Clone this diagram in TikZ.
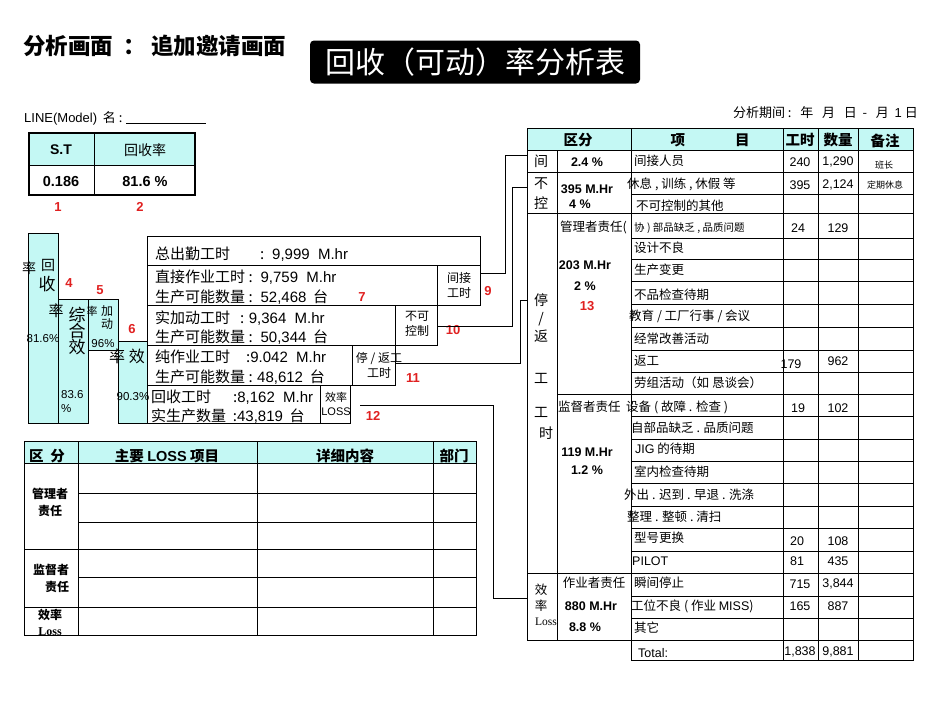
\documentclass[tikz,border=0pt]{standalone}
\usepackage{fontspec}
\setmainfont{Noto Sans CJK SC}
\newfontfamily\arial{Liberation Sans}
\newfontfamily\serifl{Liberation Serif}
\definecolor{cy}{HTML}{C4F8F4}
\definecolor{rd}{HTML}{E02020}
\begin{document}
\begin{tikzpicture}[x=1pt,y=-1pt,
  ln/.style={draw=black,line width=0.8pt},
  t/.style={inner sep=0pt,font=\fontsize{12.5}{14}\selectfont},
  tw/.style={t,anchor=west},
  num/.style={inner sep=0pt,font=\arial\fontsize{12.5}{14}\selectfont},
  bnum/.style={inner sep=0pt,font=\arial\bfseries\fontsize{12.5}{14}\selectfont},
  red/.style={inner sep=0pt,text=rd,font=\arial\bfseries\fontsize{13}{14}\selectfont},
  big/.style={inner sep=0pt,anchor=west,font=\fontsize{15}{17}\selectfont},
  hb/.style={inner sep=0pt,font=\bfseries\fontsize{14.5}{16}\selectfont},
  bar/.style={draw=black,fill=cy,line width=0.8pt}]
\useasboundingbox (0,0) rectangle (950,713);
% title
\node[anchor=west,inner sep=0pt,font=\bfseries\fontsize{22.5}{24}\selectfont] (title) at (23,46) {分析画面 \ ： 追加邀请画面};
\node[fill=black,rounded corners=4pt,minimum width=330pt,minimum height=43pt,text=white,font=\fontsize{30}{32}\selectfont] (head) at (475,62) {回收（可动）率分析表};
\node[anchor=west,inner sep=0pt,font=\fontsize{13}{15}\selectfont] (line) at (24,118) {{\arial LINE(Model)}\ \ 名 : \underline{\hspace{80pt}}};
\node[anchor=east,inner sep=0pt,font=\fontsize{13}{15}\selectfont] (period) at (918,113) {分析期间 :\ \ \ 年\ \ \ 月\ \ \ 日\ \ -\ \ \ 月\ \ {\arial 1} 日};
% top-left table
\fill[cy] (29,133) rectangle (195,165);
\draw[line width=1.8pt] (29,133) rectangle (195,195);
\draw[ln] (29,165) -- (195,165) (94,133) -- (94,195);
\node[bnum,font=\arial\bfseries\fontsize{14}{16}\selectfont] (st) at (61,150) {S.T};
\node[t,font=\fontsize{14}{16}\selectfont] (hsl) at (145,150) {回收率};
\node[bnum,font=\arial\bfseries\fontsize{14.5}{16}\selectfont] (v1) at (61,182) {0.186};
\node[bnum,font=\arial\bfseries\fontsize{14.5}{16}\selectfont] (v2) at (145,182) {81.6 \%};
\node[red] (r1) at (58,207) {1};
\node[red] (r2) at (140,207) {2};
% bars
\draw[bar] (28,233) rectangle (58,423);
\draw[bar] (58,299) rectangle (88,423);
\draw[bar] (88,299) rectangle (118,350);
\draw[bar] (118,341) rectangle (147,423);
\node[t,font=\fontsize{14}{16}\selectfont] (a1) at (29,268) {率};
\node[t,font=\fontsize{14}{16}\selectfont] (a2) at (48,265) {回};
\node[t,font=\fontsize{17}{19}\selectfont] (a3) at (47,284) {收};
\node[num,font=\arial\fontsize{11.5}{13}\selectfont] (a4) at (43,339) {81.6\%};
\node[t,font=\fontsize{15}{17}\selectfont] (b1) at (56,311) {率};
\node[t,font=\fontsize{17}{16}\selectfont,align=center] (b2) at (77,331) {综\\合\\效};
\node[num,align=left,anchor=west,font=\arial\fontsize{11.5}{14}\selectfont] (b3) at (61,402) {83.6\\\%};
\node[t,font=\fontsize{11}{13}\selectfont] (c1) at (92,311) {率};
\node[t,font=\fontsize{12}{13}\selectfont,align=center] (c2) at (107,318) {加\\动};
\node[num,font=\arial\fontsize{11.5}{13}\selectfont] (c3) at (103,344) {96\%};
\node[t,font=\fontsize{16}{18}\selectfont] (d1) at (127,356) {率 效};
\node[num,font=\arial\fontsize{11.5}{13}\selectfont] (d2) at (133,397) {90.3\%};
\node[red] (r4) at (69,283) {4};
\node[red] (r5) at (100,290) {5};
\node[red] (r6) at (132,329) {6};
% middle boxes
\draw[ln] (147,236) rectangle (480,265);
\draw[ln] (147,265) rectangle (437,305);
\draw[ln] (437,265) rectangle (480,305);
\draw[ln] (147,305) rectangle (395,345);
\draw[ln] (395,305) rectangle (437,345);
\draw[ln] (147,345) rectangle (352,385);
\draw[ln] (352,345) rectangle (395,385);
\draw[ln] (147,385) rectangle (320,423);
\draw[ln] (320,385) rectangle (350,423);
\node[big] (m1) at (155,254) {总出勤工时\hspace{30pt}: \ {\arial 9,999\ \ M.hr}};
\node[big] (m2) at (155,277) {直接作业工时 : \ {\arial 9,759\ \ M.hr}};
\node[big] (m3) at (155,297) {生产可能数量 : \ {\arial 52,468}\ \ 台};
\node[big] (m4) at (155,318) {实加动工时\hspace{10pt}: {\arial 9,364\ \ M.hr}};
\node[big] (m5) at (155,337) {生产可能数量 : \ {\arial 50,344}\ \ 台};
\node[big] (m6) at (155,357) {纯作业工时\hspace{16pt}:{\arial 9.042\ \ M.hr}};
\node[big] (m7) at (155,377) {生产可能数量 : {\arial 48,612}\ \ 台};
\node[big] (m8) at (151,397) {回收工时\hspace{22pt}:{\arial 8,162\ \ M.hr}};
\node[big] (m9) at (151,416) {实生产数量\ \ :{\arial 43,819}\ \ 台};
\node[t,align=center,font=\fontsize{12}{15}\selectfont] (k1) at (459,285) {间接\\工时};
\node[t,align=center,font=\fontsize{12}{15}\selectfont] (k2) at (417,324) {不可\\控制};
\node[t,align=center,font=\fontsize{12}{15}\selectfont] (k3) at (379,365) {停 / 返工\\工时};
\node[t,align=center,font=\fontsize{11}{14}\selectfont] (k4) at (336,404) {效率\\{\arial LOSS}};
\node[red] (r7) at (362,297) {7};
\node[red] (r9) at (488,291) {9};
\node[red] (r10) at (453,330) {10};
\node[red] (r11) at (413,378) {11};
\node[red] (r12) at (373,416) {12};
% connectors
\coordinate (e9) at (527,155);
\coordinate (e10) at (527,187);
\coordinate (e11) at (527,300);
\coordinate (e12) at (527,598);
\draw[ln,line width=0.6pt] (480,273) -- (505,273) |- (e9);
\draw[ln,line width=0.6pt] (437,326) -- (512,326) |- (e10);
\draw[ln,line width=0.6pt] (395,363) -- (520,363) |- (e11);
\draw[ln,line width=0.6pt] (360,405) -- (493,405) |- (e12);
% bottom-left table
\fill[cy] (24,441) rectangle (476,463);
\draw[ln] (24,441) rectangle (476,635);
\foreach \x in {78,257,433} \draw[ln] (\x,441) -- (\x,635);
\foreach \y in {463,549,607} \draw[ln] (24,\y) -- (476,\y);
\foreach \y in {493,522,577} \draw[ln] (78,\y) -- (476,\y);
\node[hb] (h1) at (47,456) {区\ \ 分};
\node[hb] (h2) at (167,456) {主要 {\arial LOSS} 项目};
\node[hb] (h3) at (345,456) {详细内容};
\node[hb] (h4) at (454,456) {部门};
\node[t,font=\bfseries\fontsize{12}{17}\selectfont,align=center] (l1) at (50,502) {管理者\\责任};
\node[t,font=\bfseries\fontsize{12}{17}\selectfont,align=right] (l2) at (51,578) {监督者\\责任};
\node[t,font=\bfseries\fontsize{12}{16}\selectfont,align=center] (l3) at (50,622) {效率\\{\serifl Loss}};
% right table
\fill[cy] (527,128) rectangle (913,150);
\draw[ln] (527,128) rectangle (913,640);
\draw[ln] (631,640) rectangle (913,660);
\draw[ln] (527,150) -- (913,150) (527,172) -- (913,172) (527,213) -- (913,213) (527,573) -- (913,573);
\draw[ln] (557,128) ++(0,22) -- (557,640);
\draw[ln] (557,394) -- (913,394);
\foreach \x in {631,783,818,858} \draw[ln] (\x,128) -- (\x,660);
\foreach \y in {194,238,259,281,304,327,350,372,416,439,461,483,506,528,551,596,618} \draw[ln] (631,\y) -- (913,\y);
\node[hb] (rh1) at (578,140) {区分};
\node[hb] (rh2) at (710,140) {项\hspace{50pt}目};
\node[hb] (rh3) at (800,140) {工时};
\node[hb] (rh4) at (838,140) {数量};
\node[hb] (rh5) at (885,141) {备注};
% 间
\node[t,font=\fontsize{14}{16}\selectfont] (g1) at (541,161) {间};
\node[bnum] (g2) at (587,162) {2.4 \%};
\node[tw] (g3) at (634,161) {间接人员};
\node[num] (g4) at (800,162) {240};
\node[num] (g5) at (838,162) {1,290};
\node[t,font=\fontsize{9}{10}\selectfont] (g6) at (884,165) {班长};
% 不控
\node[t,font=\fontsize{14}{16}\selectfont] (n1) at (541,184) {不};
\node[t,font=\fontsize{14}{16}\selectfont] (n2) at (541,203) {控};
\node[bnum] (n3) at (587,189) {395 M.Hr};
\node[bnum] (n4) at (580,204) {4 \%};
\node[tw] (n5) at (627,184) {休息 , 训练 , 休假 等};
\node[num] (n6) at (800,185) {395};
\node[num] (n7) at (838,185) {2,124};
\node[t,font=\fontsize{9}{10}\selectfont] (n8) at (885,185) {定期休息};
\node[tw] (n9) at (636,206) {不可控制的其他};
% 停/返工时
\node[t,font=\fontsize{14}{18}\selectfont,align=center] (s1) at (541,318) {停\\/\\返};
\node[t,font=\fontsize{14}{16}\selectfont] (s2) at (541,378) {工};
\node[t,font=\fontsize{14}{16}\selectfont] (s3) at (541,412) {工};
\node[t,font=\fontsize{14}{16}\selectfont] (s4) at (546,433) {时};
\node[tw] (p0) at (560,227) {管理者责任(};
\node[tw,font=\fontsize{10.5}{12}\selectfont] (p1) at (634,228) {协 ) 部品缺乏 , 品质问题};
\node[num] (p1a) at (798,228) {24};
\node[num] (p1b) at (838,228) {129};
\node[bnum] (p2) at (585,265) {203 M.Hr};
\node[bnum] (p3) at (585,286) {2 \%};
\node[red] (r13) at (587,306) {13};
\node[tw] (i1) at (634,248) {设计不良};
\node[tw] (i2) at (634,270) {生产变更};
\node[tw] (i3) at (634,295) {不品检查待期};
\node[tw] (i4) at (629,316) {教育 / 工厂行事 / 会议};
\node[tw] (i5) at (634,339) {经常改善活动};
\node[tw] (i6) at (634,361) {返工};
\node[num] (i6a) at (791,364) {179};
\node[num] (i6b) at (838,361) {962};
\node[tw] (i7) at (634,383) {劳组活动（如\ 恳谈会）};
\node[tw] (q0) at (558,407) {监督者责任};
\node[tw] (j1) at (626,407) {设备 ( 故障 . 检查 )};
\node[num] (j1a) at (798,408) {19};
\node[num] (j1b) at (838,408) {102};
\node[bnum] (q1) at (587,452) {119 M.Hr};
\node[bnum] (q2) at (587,470) {1.2 \%};
\node[tw] (j2) at (631,428) {自部品缺乏 . 品质问题};
\node[tw] (j3) at (635,449) {{\arial JIG} 的待期};
\node[tw] (j4) at (634,472) {室内检查待期};
\node[tw] (j5) at (624,495) {外出 . 迟到 . 早退 . 洗涤};
\node[tw] (j6) at (627,517) {整理 . 整顿 .\ 清扫};
\node[tw] (j7) at (634,538) {型号更换};
\node[num] (j7a) at (797,541) {20};
\node[num] (j7b) at (838,541) {108};
\node[tw,font=\arial\fontsize{12.5}{14}\selectfont] (j8) at (632,561) {PILOT};
\node[num] (j8a) at (797,561) {81};
\node[num] (j8b) at (838,561) {435};
% 效率 Loss
\node[t] (z1) at (541,590) {效};
\node[t] (z2) at (541,606) {率};
\node[t,font=\serifl\fontsize{11.5}{12}\selectfont] (z3) at (546,622) {Loss};
\node[t] (z4) at (594,583) {作业者责任};
\node[bnum] (z5) at (591,606) {880 M.Hr};
\node[bnum] (z6) at (585,627) {8.8 \%};
\node[tw] (k5) at (634,583) {瞬间停止};
\node[num] (k5a) at (800,584) {715};
\node[num] (k5b) at (838,584) {3,844};
\node[tw] (k6) at (631,606) {工位不良 ( 作业 {\arial MISS})};
\node[num] (k6a) at (800,606) {165};
\node[num] (k6b) at (838,606) {887};
\node[tw] (k7) at (634,628) {其它};
\node[tw,font=\arial\fontsize{12.5}{14}\selectfont] (tot) at (638,653) {Total:};
\node[num] (tota) at (800,652) {1,838};
\node[num] (totb) at (838,652) {9,881};
\end{tikzpicture}
\end{document}
